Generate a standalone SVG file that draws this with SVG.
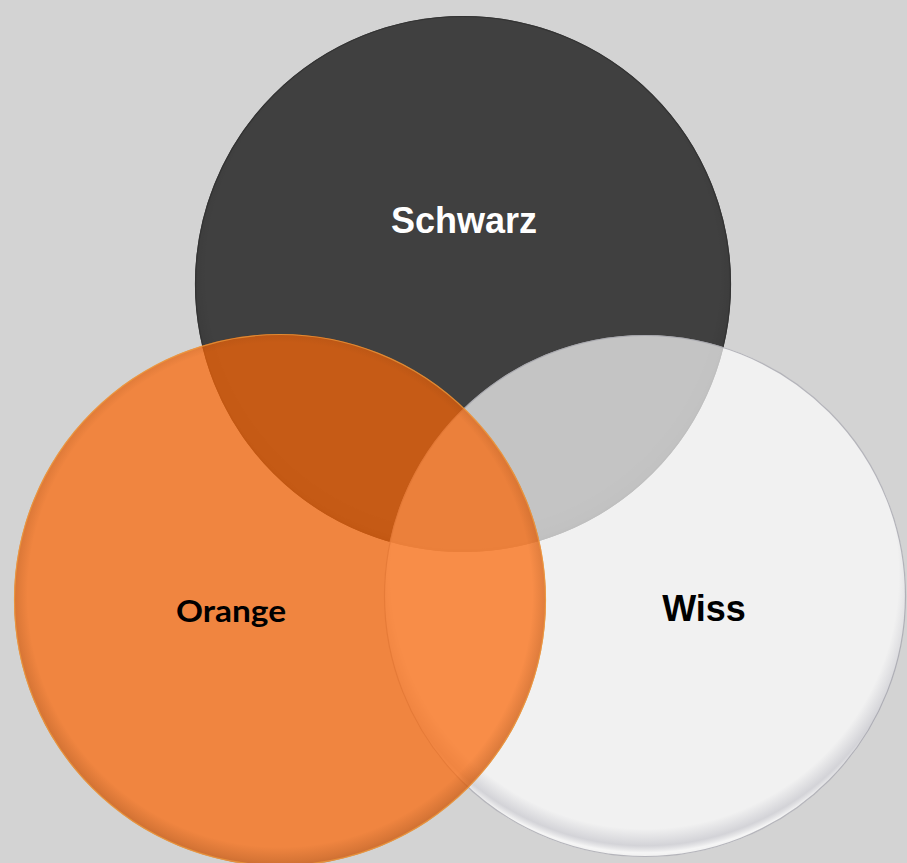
<svg xmlns="http://www.w3.org/2000/svg" width="907" height="863" viewBox="0 0 907 863">
  <style>
    .lbl-arial { font-family: "Liberation Sans", Arial, sans-serif; font-weight: bold; font-size: 36px; text-anchor: middle; }
    .lbl-cal { font-family: Lato, "Open Sans", sans-serif; font-weight: bold; font-size: 31px; text-anchor: middle; }
  </style>
  <defs>
    <radialGradient id="rimDark" cx="50%" cy="48%" r="52%">
      <stop offset="0.92" stop-color="#000" stop-opacity="0"/>
      <stop offset="0.98" stop-color="#000" stop-opacity="0.08"/>
      <stop offset="1" stop-color="#000" stop-opacity="0.22"/>
    </radialGradient>
    <radialGradient id="rimWhite" cx="50%" cy="46%" r="54%">
      <stop offset="0.90" stop-color="#7a7a8c" stop-opacity="0"/>
      <stop offset="0.96" stop-color="#7a7a8c" stop-opacity="0.25"/>
      <stop offset="0.985" stop-color="#ffffff" stop-opacity="0.3"/>
      <stop offset="1" stop-color="#ffffff" stop-opacity="0"/>
    </radialGradient>
    <radialGradient id="rimOrange" cx="50%" cy="49%" r="51%">
      <stop offset="0.93" stop-color="#7a3a10" stop-opacity="0"/>
      <stop offset="0.98" stop-color="#7a3a10" stop-opacity="0.2"/>
      <stop offset="1" stop-color="#7a3a10" stop-opacity="0.3"/>
    </radialGradient>
  </defs>
  <rect x="0" y="0" width="907" height="863" fill="#d3d3d3"/>

  <g id="node-schwarz">
    <circle cx="463" cy="284" r="268" fill="#404040"/>
    <circle cx="463" cy="284" r="268" fill="url(#rimDark)"/>
    <circle cx="463" cy="284" r="267.5" fill="none" stroke="#333" stroke-width="1.2"/>
    <text class="lbl-arial" x="464" y="233" fill="#ffffff">Schwarz</text>
  </g>

  <g id="node-wiss">
    <circle cx="645" cy="596" r="261" fill="#ffffff" fill-opacity="0.69"/>
    <circle cx="645" cy="596" r="261" fill="url(#rimWhite)"/>
    <circle cx="645" cy="596" r="260.5" fill="none" stroke="#a0a0a8" stroke-opacity="0.75" stroke-width="1.2"/>
    <text class="lbl-arial" x="704" y="621" fill="#000000">Wiss</text>
  </g>

  <g id="node-orange">
    <circle cx="280" cy="600" r="266" fill="#fb6605" fill-opacity="0.716"/>
    <circle cx="280" cy="600" r="266" fill="url(#rimOrange)"/>
    <circle cx="280" cy="600" r="265.5" fill="none" stroke="#f0a040" stroke-opacity="0.7" stroke-width="1.2"/>
    <text class="lbl-cal" x="231" y="622" fill="#000000" textLength="110" lengthAdjust="spacingAndGlyphs">Orange</text>
  </g>

  <g id="connectors"/>
</svg>
